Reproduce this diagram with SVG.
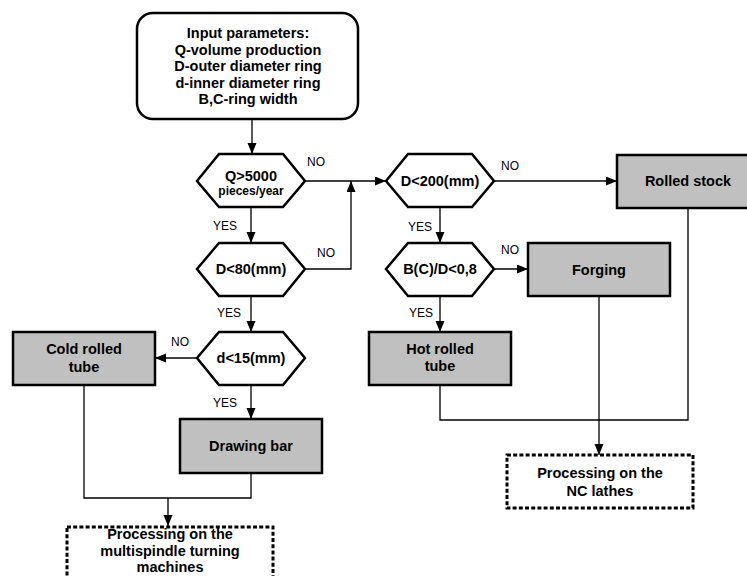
<svg xmlns="http://www.w3.org/2000/svg" width="747" height="576" viewBox="0 0 747 576">
  <style>
    .bg { fill: #ffffff; }
    .start { fill: #ffffff; stroke: #000; stroke-width: 2.5; }
    .dec { fill: #ffffff; stroke: #000; stroke-width: 2.5; stroke-linejoin: miter; }
    .proc { fill: #c0c0c0; stroke: #000; stroke-width: 2.5; }
    .end { fill: #ffffff; stroke: #000; stroke-width: 3; stroke-dasharray: 4 2.2; }
    .wire { fill: none; stroke: #000; stroke-width: 1.3; }
    .t { font-family: "Liberation Sans", Arial, sans-serif; font-weight: bold; font-size: 14.5px; text-anchor: middle; fill: #000; }
    .ts { font-family: "Liberation Sans", Arial, sans-serif; font-weight: bold; font-size: 12px; text-anchor: middle; fill: #000; }
    .lbl { font-family: "Liberation Sans", Arial, sans-serif; font-size: 12px; fill: #000; }
  </style>
  <defs>
    <marker id="arr" markerUnits="userSpaceOnUse" markerWidth="12" markerHeight="10" refX="11" refY="4.5" orient="auto">
      <path d="M0,0 L11,4.5 L0,9 Z" fill="#000"/>
    </marker>
  </defs>
  <rect class="bg" x="0" y="0" width="747" height="576"/>

  <!-- connectors -->
  <g id="connectors">
    <line class="wire" x1="252" y1="119" x2="252" y2="154" marker-end="url(#arr)"/>
    <line class="wire" x1="305" y1="181" x2="386" y2="181" marker-end="url(#arr)"/>
    <line class="wire" x1="251" y1="207" x2="251" y2="243" marker-end="url(#arr)"/>
    <polyline class="wire" points="305,269 351,269 351,181" marker-end="url(#arr)"/>
    <line class="wire" x1="251" y1="296" x2="251" y2="332" marker-end="url(#arr)"/>
    <line class="wire" x1="197" y1="358" x2="155" y2="358" marker-end="url(#arr)"/>
    <line class="wire" x1="251" y1="385" x2="251" y2="419" marker-end="url(#arr)"/>
    <polyline class="wire" points="84,385 84,498 251,498 251,473"/>
    <line class="wire" x1="168" y1="498" x2="168" y2="526" marker-end="url(#arr)"/>
    <line class="wire" x1="494" y1="181" x2="617" y2="181" marker-end="url(#arr)"/>
    <line class="wire" x1="440" y1="207" x2="440" y2="243" marker-end="url(#arr)"/>
    <line class="wire" x1="494" y1="269" x2="528" y2="269" marker-end="url(#arr)"/>
    <line class="wire" x1="440" y1="296" x2="440" y2="332" marker-end="url(#arr)"/>
    <polyline class="wire" points="440,385 440,420 688,420 688,208"/>
    <line class="wire" x1="599" y1="296" x2="599" y2="455" marker-end="url(#arr)"/>

    <text class="lbl" x="307" y="166">NO</text>
    <text class="lbl" x="317" y="257">NO</text>
    <text class="lbl" x="213" y="230">YES</text>
    <text class="lbl" x="217" y="317">YES</text>
    <text class="lbl" x="171" y="346">NO</text>
    <text class="lbl" x="213" y="407">YES</text>
    <text class="lbl" x="501" y="170">NO</text>
    <text class="lbl" x="408" y="231">YES</text>
    <text class="lbl" x="501" y="254">NO</text>
    <text class="lbl" x="409" y="317">YES</text>
  </g>

  <!-- input -->
  <g id="input">
    <rect class="start" x="137" y="13" width="221" height="106" rx="16"/>
    <text class="t" x="248" y="38">Input parameters:</text>
    <text class="t" x="248" y="54.5">Q-volume production</text>
    <text class="t" x="248" y="71">D-outer diameter ring</text>
    <text class="t" x="248" y="87.5">d-inner diameter ring</text>
    <text class="t" x="248" y="104">B,C-ring width</text>
  </g>

  <!-- decisions -->
  <g id="q5000">
    <polygon class="dec" points="197,181 219,154 283,154 305,181 283,207 219,207"/>
    <text class="t" x="251" y="181">Q&gt;5000</text>
    <text class="ts" x="251" y="195">pieces/year</text>
  </g>
  <g id="d80">
    <polygon class="dec" points="197,269 219,243 283,243 305,269 283,296 219,296"/>
    <text class="t" x="251" y="274">D&lt;80(mm)</text>
  </g>
  <g id="d15">
    <polygon class="dec" points="197,358 219,332 283,332 305,358 283,385 219,385"/>
    <text class="t" x="251" y="363">d&lt;15(mm)</text>
  </g>
  <g id="d200">
    <polygon class="dec" points="386,181 408,154 472,154 494,181 472,207 408,207"/>
    <text class="t" x="440" y="186">D&lt;200(mm)</text>
  </g>
  <g id="bcd">
    <polygon class="dec" points="386,269 408,243 472,243 494,269 472,296 408,296"/>
    <text class="t" x="440" y="274">B(C)/D&lt;0,8</text>
  </g>

  <!-- processes -->
  <g id="cold-rolled">
    <rect class="proc" x="13" y="332" width="142" height="53"/>
    <text class="t" x="84" y="354">Cold rolled</text>
    <text class="t" x="84" y="372">tube</text>
  </g>
  <g id="drawing-bar">
    <rect class="proc" x="180" y="419" width="142" height="54"/>
    <text class="t" x="251" y="451">Drawing bar</text>
  </g>
  <g id="hot-rolled">
    <rect class="proc" x="369" y="332" width="142" height="53"/>
    <text class="t" x="440" y="354">Hot rolled</text>
    <text class="t" x="440" y="371">tube</text>
  </g>
  <g id="forging">
    <rect class="proc" x="528" y="243" width="142" height="53"/>
    <text class="t" x="599" y="275">Forging</text>
  </g>
  <g id="rolled-stock">
    <rect class="proc" x="617" y="155" width="142" height="53"/>
    <text class="t" x="688" y="186">Rolled stock</text>
  </g>

  <!-- outcomes -->
  <g id="nc-lathes">
    <rect class="end" x="507" y="455" width="186" height="53"/>
    <text class="t" x="600" y="478">Processing on the</text>
    <text class="t" x="600" y="496">NC lathes</text>
  </g>
  <g id="multispindle">
    <rect class="end" x="67" y="527" width="206" height="60"/>
    <text class="t" x="170" y="539">Processing on the</text>
    <text class="t" x="170" y="556">multispindle turning</text>
    <text class="t" x="170" y="572">machines</text>
  </g>
</svg>
